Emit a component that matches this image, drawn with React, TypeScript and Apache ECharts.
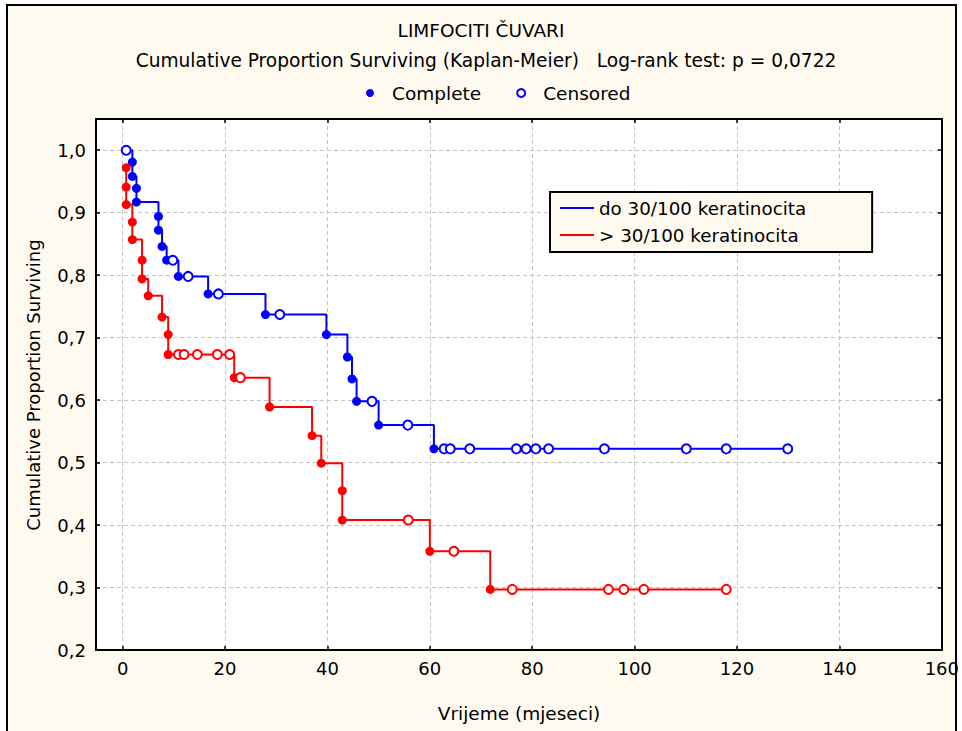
import React, { useEffect, useRef } from 'react';
import * as echarts from 'echarts';

const FONT = '"DejaVu Sans", "Liberation Sans", Arial, sans-serif';

const titleText = 'LIMFOCITI ČUVARI';
const subtitleText = 'Cumulative Proportion Surviving (Kaplan-Meier)   Log-rank test: p = 0,0722';
const xAxisName = 'Vrijeme (mjeseci)';
const yAxisName = 'Cumulative Proportion Surviving';
const markerNames = ['Complete', 'Censored'];
const groupNames = ['do 30/100 keratinocita', '> 30/100 keratinocita'];
const groupColors = ['#0000ff', '#ff0000'];

// Group 1 (blue): time in months, cumulative proportion surviving, 1 = complete, 0 = censored
const blueTimes = [0.7, 1.9, 1.9, 2.7, 2.7, 7.0, 7.0, 7.7, 8.6, 9.8, 10.9, 12.8, 16.7, 18.7, 27.9, 30.7, 39.8, 43.9, 44.8, 45.7, 48.7, 50.0, 55.7, 60.8, 62.8, 64.0, 67.8, 76.9, 78.8, 80.7, 83.2, 94.1, 110.1, 117.9, 129.9];
const blueSurv = [1.0, 0.981, 0.958, 0.939, 0.917, 0.894, 0.872, 0.846, 0.824, 0.824, 0.798, 0.798, 0.770, 0.770, 0.737, 0.737, 0.705, 0.669, 0.634, 0.598, 0.598, 0.560, 0.560, 0.522, 0.522, 0.522, 0.522, 0.522, 0.522, 0.522, 0.522, 0.522, 0.522, 0.522, 0.522];
const blueEvent = [0, 1, 1, 1, 1, 1, 1, 1, 1, 0, 1, 0, 1, 0, 1, 0, 1, 1, 1, 1, 0, 1, 0, 1, 0, 0, 0, 0, 0, 0, 0, 0, 0, 0, 0];

// Group 2 (red)
const redTimes = [0.7, 0.7, 0.7, 1.9, 1.9, 3.8, 3.8, 5.0, 7.7, 8.9, 8.9, 10.9, 12.0, 14.6, 18.5, 20.9, 21.8, 23.0, 28.7, 37.0, 38.8, 42.9, 42.9, 55.8, 60.0, 64.7, 71.8, 76.1, 94.9, 97.9, 101.8, 117.9];
const redSurv = [0.972, 0.941, 0.913, 0.885, 0.857, 0.824, 0.794, 0.767, 0.733, 0.705, 0.673, 0.673, 0.673, 0.673, 0.673, 0.673, 0.636, 0.636, 0.589, 0.543, 0.499, 0.455, 0.408, 0.408, 0.358, 0.358, 0.297, 0.297, 0.297, 0.297, 0.297, 0.297];
const redEvent = [1, 1, 1, 1, 1, 1, 1, 1, 1, 1, 1, 0, 0, 0, 0, 0, 1, 0, 1, 1, 1, 1, 1, 0, 1, 0, 1, 0, 0, 0, 0, 0];

const X_MIN = -5.2;
const X_MAX = 160;
const Y_MIN = 0.2;
const Y_MAX = 1.05;

function pts(times: number[], surv: number[]) {
  return times.map((t, i) => [t, surv[i]]);
}
function filt(times: number[], surv: number[], ev: number[], want: number) {
  return times.map((t, i) => [t, surv[i], ev[i]]).filter((p) => p[2] === want).map((p) => [p[0], p[1]]);
}

export default function App() {
  const ref = useRef<HTMLDivElement>(null);
  useEffect(() => {
    if (!ref.current) return;
    const chart = echarts.init(ref.current, undefined, { renderer: 'svg' });
    const axisLineStyle = { color: '#000', width: 2 };
    const tickStyle = { show: true, inside: true, length: 4, lineStyle: { color: '#000', width: 1.5 } };
    const labelStyle = { color: '#000', fontSize: 18, fontFamily: FONT };
    const gridLine = { show: true, lineStyle: { color: '#c4c4c4', width: 1, type: [4, 3] as any } };

    const lineSeries = (name: string, color: string, data: number[][]) => ({
      name,
      type: 'line',
      step: 'end',
      data,
      showSymbol: false,
      symbol: 'none',
      lineStyle: { color, width: 2 },
      itemStyle: { color },
      z: 2,
    });
    const completeSeries = (name: string, color: string, data: number[][]) => ({
      name,
      type: 'scatter',
      data,
      symbol: 'circle',
      symbolSize: 9,
      itemStyle: { color, opacity: 1 },
      z: 4,
    });
    const censoredSeries = (name: string, color: string, data: number[][]) => ({
      name,
      type: 'scatter',
      data,
      symbol: 'circle',
      symbolSize: 9,
      itemStyle: { color: '#ffffff', borderColor: color, borderWidth: 2, opacity: 1 },
      z: 4,
    });

    chart.setOption({
      animation: false,
      backgroundColor: 'transparent',
      textStyle: { fontFamily: FONT },
      grid: {
        left: 96,
        top: 119,
        right: 19,
        bottom: 81,
        show: true,
        backgroundColor: '#ffffff',
        borderWidth: 0,
        containLabel: false,
      },
      legend: [
        {
          data: [
            { name: markerNames[0], icon: 'circle' },
            { name: markerNames[1], icon: 'circle' },
          ],
          left: 366,
          top: 83,
          padding: 0,
          itemWidth: 34,
          itemHeight: 8,
          itemGap: 35,
          selectedMode: false,
          textStyle: { color: '#000', fontSize: 18.5, fontFamily: FONT, lineHeight: 20 },
        },
        {
          data: groupNames,
          orient: 'vertical',
          left: 550,
          top: 192,
          padding: [6, 66, 7, 10],
          itemWidth: 34,
          itemHeight: 2,
          itemGap: 7,
          icon: 'rect',
          selectedMode: false,
          backgroundColor: '#fffaf0',
          borderColor: '#000',
          borderWidth: 2,
          textStyle: { color: '#000', fontSize: 18.3, fontFamily: FONT, lineHeight: 20 },
        },
      ],
      xAxis: [
        {
          type: 'value',
          position: 'bottom',
          min: X_MIN,
          max: X_MAX,
          splitNumber: 8,
          minInterval: 20,
          maxInterval: 20,
          axisLine: { show: true, onZero: false, lineStyle: axisLineStyle },
          axisTick: tickStyle,
          axisLabel: {
            ...labelStyle,
            margin: 9,
            formatter: (v: number) => (v < 0 ? '' : String(Math.round(v))),
          },
          splitLine: gridLine,
        },
        {
          type: 'value',
          position: 'top',
          min: X_MIN,
          max: X_MAX,
          splitNumber: 8,
          minInterval: 20,
          maxInterval: 20,
          axisLine: { show: true, onZero: false, lineStyle: axisLineStyle },
          axisTick: tickStyle,
          axisLabel: { show: false },
          splitLine: { show: false },
        },
      ],
      yAxis: [
        {
          type: 'value',
          position: 'left',
          min: Y_MIN,
          max: Y_MAX,
          interval: 0.1,
          axisLine: { show: true, onZero: false, lineStyle: axisLineStyle },
          axisTick: tickStyle,
          axisLabel: {
            ...labelStyle,
            margin: 10,
            formatter: (v: number) => (v > 1.0001 ? '' : v.toFixed(1).replace('.', ',')),
          },
          splitLine: gridLine,
        },
        {
          type: 'value',
          position: 'right',
          min: Y_MIN,
          max: Y_MAX,
          interval: 0.1,
          axisLine: { show: true, onZero: false, lineStyle: axisLineStyle },
          axisTick: tickStyle,
          axisLabel: { show: false },
          splitLine: { show: false },
        },
      ],
      graphic: [
        {
          type: 'text',
          x: 481,
          y: 30,
          style: { text: titleText, fill: '#000', font: `18.5px ${FONT}`, align: 'center', verticalAlign: 'middle' },
        },
        {
          type: 'text',
          x: 486,
          y: 60,
          style: { text: subtitleText, fill: '#000', font: `18.6px ${FONT}`, align: 'center', verticalAlign: 'middle' },
        },
        {
          type: 'text',
          x: 519,
          y: 713,
          style: { text: xAxisName, fill: '#000', font: `18.5px ${FONT}`, align: 'center', verticalAlign: 'middle' },
        },
        {
          type: 'text',
          x: 33,
          y: 385,
          rotation: Math.PI / 2,
          style: { text: yAxisName, fill: '#000', font: `18px ${FONT}`, align: 'center', verticalAlign: 'middle' },
        },
      ],
      series: [
        lineSeries(groupNames[0], groupColors[0], pts(blueTimes, blueSurv)),
        lineSeries(groupNames[1], groupColors[1], pts(redTimes, redSurv)),
        completeSeries(markerNames[0], groupColors[0], filt(blueTimes, blueSurv, blueEvent, 1)),
        censoredSeries(markerNames[1], groupColors[0], filt(blueTimes, blueSurv, blueEvent, 0)),
        completeSeries('Complete (2)', groupColors[1], filt(redTimes, redSurv, redEvent, 1)),
        censoredSeries('Censored (2)', groupColors[1], filt(redTimes, redSurv, redEvent, 0)),
      ],
    });
    return () => chart.dispose();
  }, []);

  return (
    <div style={{ position: 'fixed', left: 0, top: 0, width: 962, height: 731, background: '#ffffff', overflow: 'hidden' }}>
      <div
        style={{
          position: 'absolute',
          left: 6,
          top: 4,
          width: 951,
          height: 780,
          boxSizing: 'border-box',
          border: '2px solid #000',
          background: '#fffaf0',
        }}
      />
      <div ref={ref} style={{ position: 'absolute', left: 0, top: 0, width: 962, height: 731 }} />
    </div>
  );
}
